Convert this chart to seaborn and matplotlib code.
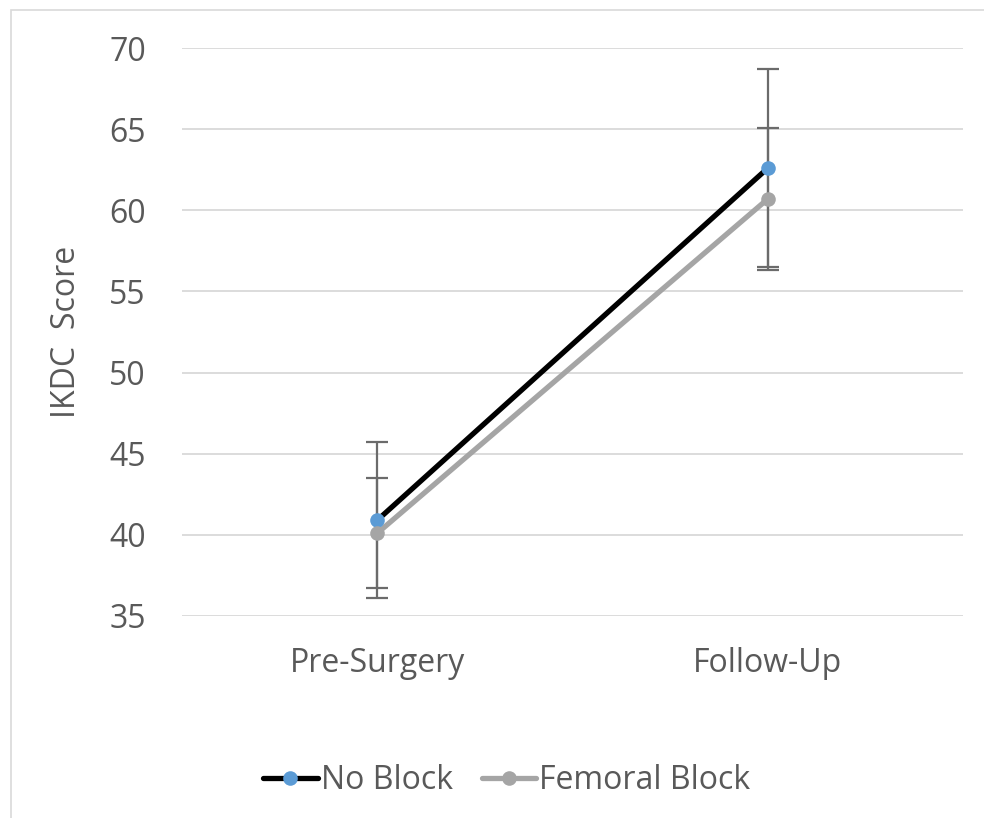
import seaborn as sns
import matplotlib.pyplot as plt
import matplotlib.patches as mpatches
import pandas as pd

# values
timepoints = ["Pre-Surgery", "Follow-Up"]
no_block_mean = [40.9, 62.6]
no_block_err = [4.8, 6.1]
femoral_mean = [40.1, 60.7]
femoral_err = [3.4, 4.35]
series_names = ["No Block", "Femoral Block"]
y_ticks = [35, 40, 45, 50, 55, 60, 65, 70]

sns.set_theme(style="white")
plt.rcParams['font.family'] = ['Open Sans', 'DejaVu Sans']

text_color = "#595959"
line_colors = {"No Block": "#000000", "Femoral Block": "#A5A5A5"}
marker_colors = {"No Block": "#5B9BD5", "Femoral Block": "#A5A5A5"}

df = pd.DataFrame({
    "Time": timepoints * 2,
    "Score": no_block_mean + femoral_mean,
    "Err": no_block_err + femoral_err,
    "Group": [series_names[0]] * 2 + [series_names[1]] * 2,
})

fig = plt.figure(figsize=(9.84, 8.18), dpi=100)
ax = fig.add_axes([0.185, 0.247, 0.7937, 0.6943])

# outer chart border (only left and top edges visible in the crop)
fig.patches.append(mpatches.Rectangle((11 / 984, -0.2), 1.2, 1.2 - 10 / 818, transform=fig.transFigure,
                                      fill=False, edgecolor="#D9D9D9", linewidth=1.2))

sns.lineplot(data=df, x="Time", y="Score", hue="Group", palette=line_colors, ax=ax,
             linewidth=3.8, legend=False, zorder=3, sort=False)

for name in series_names:
    sub = df[df["Group"] == name]
    ax.errorbar(range(len(sub)), sub["Score"], yerr=sub["Err"], fmt="none",
                ecolor="#6B6B6B", elinewidth=1.6, capsize=8, capthick=1.6, zorder=2)
    ax.plot(range(len(sub)), sub["Score"], linestyle="none", marker="o", markersize=10.5,
            color=marker_colors[name], markeredgewidth=0, zorder=4)

ax.set_xlim(-0.5, 1.5)
ax.set_ylim(35, 70)
ax.set_yticks(y_ticks)
ax.yaxis.grid(True, color="#D9D9D9", linewidth=1.3)
ax.set_axisbelow(True)
for side in ["left", "right", "top", "bottom"]:
    ax.spines[side].set_visible(False)
ax.tick_params(axis="both", length=0, labelsize=23, labelcolor=text_color)
ax.tick_params(axis="y", pad=26)
ax.tick_params(axis="x", pad=22)
ax.set_xlabel("")
ax.set_ylabel("IKDC  Score", fontsize=23, color=text_color, labelpad=19)

handles = [plt.Line2D([], [], color=line_colors[n], linewidth=3.8, marker="o", markersize=10.5,
                      markerfacecolor=marker_colors[n], markeredgewidth=0) for n in series_names]
fig.legend(handles, series_names, loc="center", bbox_to_anchor=(0.515, 0.046), ncol=2, frameon=False,
           fontsize=23, labelcolor=text_color, handlelength=1.7, handletextpad=0.1, columnspacing=0.9)

plt.savefig("out.png", dpi=100)
